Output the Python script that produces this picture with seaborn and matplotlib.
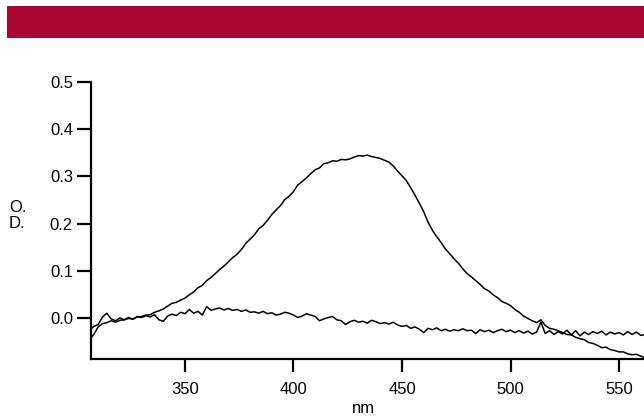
import numpy as np
import pandas as pd
import matplotlib
matplotlib.use("Agg")
import matplotlib.pyplot as plt
from matplotlib.patches import Rectangle
import seaborn as sns

# wavelengths (nm), 306..562 step 2
wavelength = list(range(306, 563, 2))

# absorbance spectrum with band (O.D.)
od_band = [
    -0.046, -0.035, -0.019, -0.012, -0.010, -0.006, -0.009, -0.005, -0.004, -0.001,
    -0.002, 0.002, 0.003, 0.006, 0.007, 0.012, 0.015, 0.019, 0.025, 0.031,
    0.033, 0.038, 0.042, 0.049, 0.055, 0.064, 0.069, 0.079, 0.086, 0.094,
    0.103, 0.110, 0.119, 0.128, 0.135, 0.145, 0.158, 0.167, 0.176, 0.189,
    0.196, 0.207, 0.219, 0.229, 0.238, 0.251, 0.258, 0.268, 0.282, 0.289,
    0.297, 0.306, 0.314, 0.318, 0.327, 0.329, 0.333, 0.332, 0.336, 0.335,
    0.337, 0.341, 0.344, 0.343, 0.345, 0.342, 0.340, 0.338, 0.334, 0.330,
    0.322, 0.311, 0.301, 0.291, 0.276, 0.260, 0.243, 0.225, 0.203, 0.186,
    0.172, 0.160, 0.146, 0.136, 0.125, 0.116, 0.104, 0.094, 0.087, 0.079,
    0.071, 0.062, 0.057, 0.049, 0.043, 0.035, 0.031, 0.026, 0.018, 0.012,
    0.004, -0.001, -0.006, -0.010, -0.004, -0.016, -0.022, -0.024, -0.027, -0.031,
    -0.035, -0.036, -0.041, -0.044, -0.046, -0.052, -0.054, -0.058, -0.063, -0.062,
    -0.067, -0.069, -0.072, -0.072, -0.076, -0.078, -0.077, -0.081, -0.084,
]

# flat baseline spectrum (O.D.)
od_flat = [
    -0.026, -0.018, -0.014, 0.002, 0.010, -0.002, -0.006, 0.000, -0.004, 0.001,
    -0.003, 0.003, 0.001, 0.005, 0.002, 0.007, -0.004, -0.007, 0.004, 0.008,
    0.005, 0.012, 0.009, 0.018, 0.010, 0.014, 0.006, 0.024, 0.016, 0.019,
    0.021, 0.017, 0.020, 0.016, 0.018, 0.014, 0.017, 0.012, 0.013, 0.010,
    0.014, 0.009, 0.011, 0.006, 0.008, 0.012, 0.010, 0.006, 0.001, 0.004,
    0.009, 0.006, 0.003, -0.006, -0.002, 0.001, 0.003, -0.004, -0.006, -0.014,
    -0.008, -0.005, -0.009, -0.007, -0.011, -0.005, -0.008, -0.012, -0.010, -0.013,
    -0.009, -0.015, -0.018, -0.016, -0.022, -0.019, -0.024, -0.031, -0.022, -0.025,
    -0.021, -0.027, -0.024, -0.028, -0.025, -0.027, -0.023, -0.027, -0.026, -0.033,
    -0.025, -0.029, -0.026, -0.031, -0.027, -0.024, -0.029, -0.026, -0.031, -0.027,
    -0.032, -0.028, -0.034, -0.030, -0.009, -0.033, -0.027, -0.035, -0.029, -0.034,
    -0.026, -0.036, -0.027, -0.038, -0.030, -0.035, -0.029, -0.033, -0.028, -0.036,
    -0.030, -0.034, -0.031, -0.036, -0.029, -0.035, -0.030, -0.037, -0.035,
]

x_ticks = [350, 400, 450, 500, 550]
y_ticks = [0.0, 0.1, 0.2, 0.3, 0.4, 0.5]

sns.set_style("ticks")
plt.rcParams["font.family"] = ["Liberation Sans", "DejaVu Sans"]

W, H = 644, 416
fig = plt.figure(figsize=(W / 100, H / 100), dpi=100)
fig.patch.set_facecolor("white")

# banner
fig.patches.append(Rectangle((7 / W, 1 - 38 / H), (W - 7) / W, 32 / H,
                             transform=fig.transFigure, facecolor="#A80532",
                             edgecolor="none", zorder=0))

ax = fig.add_axes([91 / W, 57 / H, (W - 91) / W, (359 - 82) / H])

df1 = pd.DataFrame({"nm": wavelength, "od": od_band})
df2 = pd.DataFrame({"nm": wavelength, "od": od_flat})
sns.lineplot(data=df1, x="nm", y="od", ax=ax, color="black", linewidth=1.1)
sns.lineplot(data=df2, x="nm", y="od", ax=ax, color="black", linewidth=1.1)

ax.set_xlim(306.7, 561.5)
ax.set_ylim(-0.087, 0.5)
ax.set_xticks(x_ticks)
ax.set_xticklabels([str(v) for v in x_ticks])
ax.set_yticks(y_ticks)
ax.set_yticklabels([f"{v:.1f}" for v in y_ticks])
ax.set_xlabel("")
ax.set_ylabel("")

for s in ["top", "right"]:
    ax.spines[s].set_visible(False)
for s in ["left", "bottom"]:
    ax.spines[s].set_linewidth(1.6)
    ax.spines[s].set_color("black")

ax.tick_params(axis="y", direction="out", length=10, width=1.6, pad=3,
               labelsize=12, colors="black")
ax.tick_params(axis="x", direction="out", length=9.5, width=1.6, pad=7,
               labelsize=12, colors="black")
ax.set_facecolor("white")

fig.text(9 / W, 1 - 206 / H, "O.", ha="left", va="center_baseline",
         fontsize=12, color="black")
fig.text(9 / W, 1 - 222 / H, "D.", ha="left", va="center_baseline",
         fontsize=12, color="black")
fig.text(363 / W, 1 - 413 / H, "nm", ha="center", va="baseline",
         fontsize=12, color="black")

fig.savefig("out.png", dpi=100, facecolor="white")
